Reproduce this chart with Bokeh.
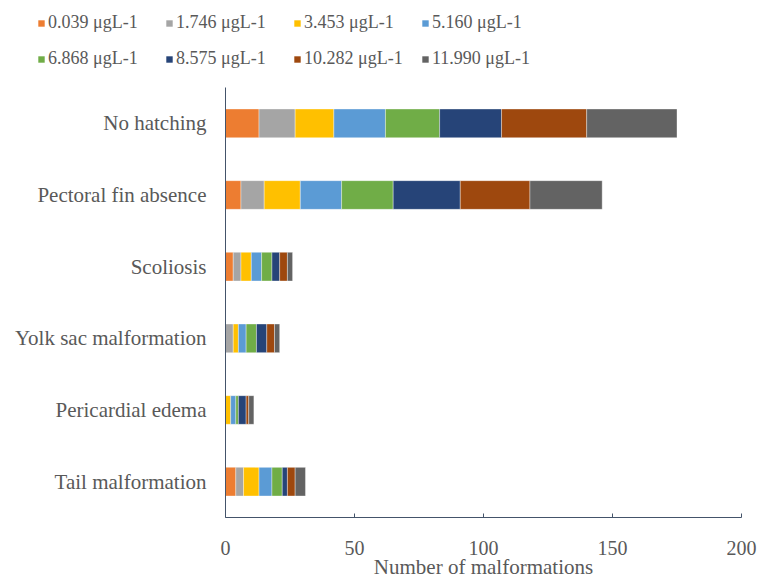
from bokeh.plotting import figure
from bokeh.layouts import column
from bokeh.models import ColumnDataSource, FactorRange, Range1d, Legend, LegendItem, FixedTicker
from bokeh.embed import file_html
from bokeh.resources import INLINE

categories = ["No hatching", "Pectoral fin absence", "Scoliosis",
              "Yolk sac malformation", "Pericardial edema", "Tail malformation"]
series_names = ["0.039 μgL-1", "1.746 μgL-1", "3.453 μgL-1", "5.160 μgL-1",
                "6.868 μgL-1", "8.575 μgL-1", "10.282 μgL-1", "11.990 μgL-1"]
c0039 = [13, 6, 3, 0, 0, 4]
c1746 = [14, 9, 3, 3, 0, 3]
c3453 = [15, 14, 4, 2, 2, 6]
c5160 = [20, 16, 4, 3, 2, 5]
c6868 = [21, 20, 4, 4, 1, 4]
c8575 = [24, 26, 3, 4, 3, 2]
c10282 = [33, 27, 3, 3, 1, 3]
c11990 = [35, 28, 2, 2, 2, 4]
x_ticks = [0, 50, 100, 150, 200]

colors = ["#ED7D31", "#A5A5A5", "#FFC000", "#5B9BD5",
          "#70AD47", "#264478", "#9E480E", "#636363"]
keys = ["s0", "s1", "s2", "s3", "s4", "s5", "s6", "s7"]
series = [c0039, c1746, c3453, c5160, c6868, c8575, c10282, c11990]

data = {"cat": categories}
for k, s in zip(keys, series):
    data[k] = s
source = ColumnDataSource(data)

FONT = "Liberation Serif"
TXT = "#595959"
AX = "#44546A"

W = 759
LEG_H = 72
MAIN_H = 581 - LEG_H

# ---- main chart ----
p = figure(width=W, height=MAIN_H,
           y_range=FactorRange(*reversed(categories)),
           x_range=Range1d(0, 200),
           output_backend="svg", toolbar_location=None,
           min_border_left=225, min_border_right=18,
           min_border_top=15, min_border_bottom=60)
p.frame_align = False

renderers = p.hbar_stack(keys, y="cat", height=0.4, color=colors, source=source,
                         line_color="white", line_width=0.6, line_alpha=0.6)

p.outline_line_color = None
p.xgrid.grid_line_color = None
p.ygrid.grid_line_color = None

p.xaxis.ticker = FixedTicker(ticks=x_ticks)
p.xaxis.minor_tick_line_color = None
p.xaxis.major_tick_in = 4
p.xaxis.major_tick_out = 0
p.xaxis.major_tick_line_color = AX
p.xaxis.axis_line_color = AX
p.xaxis.major_label_text_font = FONT
p.xaxis.major_label_text_font_size = "20px"
p.xaxis.major_label_text_color = TXT
p.xaxis.major_label_text_line_height = 1.0
p.xaxis.major_label_standoff = 23
p.xaxis.axis_label = "Number of malformations"
p.xaxis.axis_label_text_font = FONT
p.xaxis.axis_label_text_font_size = "21px"
p.xaxis.axis_label_text_font_style = "normal"
p.xaxis.axis_label_text_color = TXT
p.xaxis.axis_label_text_line_height = 1.0
p.xaxis.axis_label_standoff = -3

p.yaxis.axis_line_color = AX
p.yaxis.major_tick_line_color = None
p.yaxis.minor_tick_line_color = None
p.yaxis.major_label_text_font = FONT
p.yaxis.major_label_text_font_size = "21px"
p.yaxis.major_label_text_color = TXT
p.yaxis.major_label_standoff = 13

# ---- legend strip ----
lf = figure(width=W, height=LEG_H, x_range=Range1d(0, 1), y_range=Range1d(0, 1),
            output_backend="svg", toolbar_location=None,
            x_axis_type=None, y_axis_type=None,
            min_border=0, min_border_left=0, min_border_right=0,
            min_border_top=0, min_border_bottom=0)
lf.frame_align = False
lf.outline_line_color = None
lf.xgrid.grid_line_color = None
lf.ygrid.grid_line_color = None
offscreen = ColumnDataSource({"y": [-100], "l": [-100], "r": [-99]})
dummies = [lf.hbar(y="y", left="l", right="r", height=0.4, fill_color=c,
                   line_color=None, source=offscreen)
           for c in colors]

items = [LegendItem(label=n, renderers=[r]) for n, r in zip(series_names, dummies)]
legend = Legend(items=items, orientation="horizontal", ncols=4, nrows=2,
                location=(37, 3),
                glyph_width=8, glyph_height=8, label_standoff=3,
                label_width=102, label_height=20, spacing=15,
                padding=0, margin=0,
                border_line_alpha=0, background_fill_alpha=0,
                label_text_font=FONT, label_text_font_size="18px",
                label_text_color=TXT)
lf.add_layout(legend, "center")

layout = column(lf, p, spacing=0)
open("out.html", "w").write(file_html(layout, INLINE))
